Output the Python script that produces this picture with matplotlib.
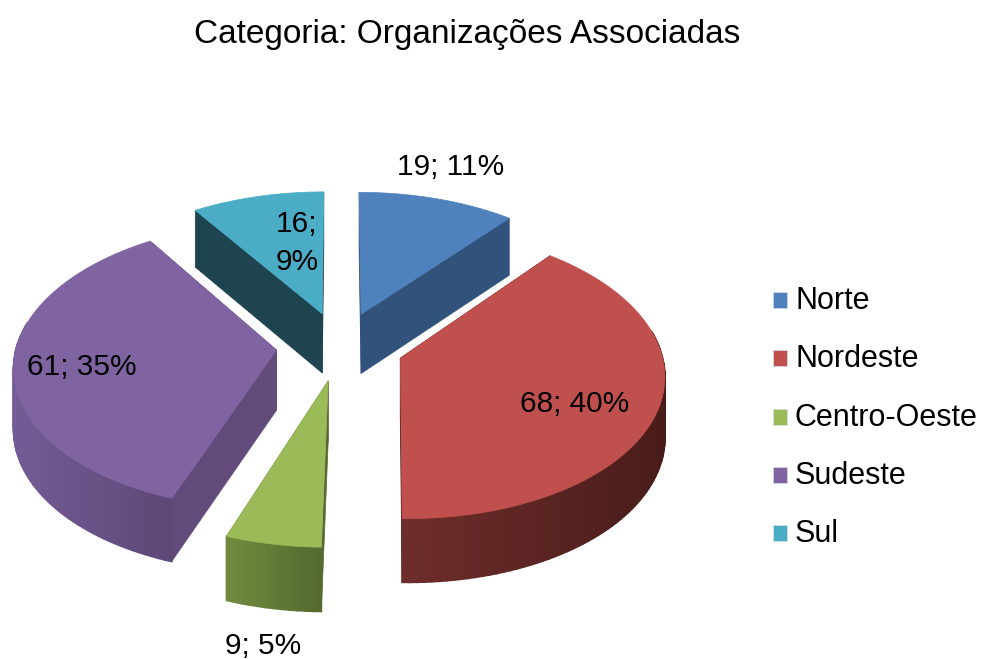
import numpy as np
import matplotlib
matplotlib.use("Agg")
import matplotlib.pyplot as plt
from matplotlib.patches import Polygon, Rectangle
from matplotlib.colors import to_rgb

# Dados
regioes = ["Norte", "Nordeste", "Centro-Oeste", "Sudeste", "Sul"]
valores = [19, 68, 9, 61, 16]
rotulos = ["19; 11%", "68; 40%", "9; 5%", "61; 35%", "16;\n9%"]
cores_topo = ["#4f81bd", "#c0504d", "#9bbb59", "#8064a2", "#4bacc6"]
cores_corte = ["#30527b", "#4f1f1d", "#566a30", "#624b7b", "#1e4450"]
cores_lado_claro = ["#3b6291", "#6e2d2a", "#6f8a3e", "#735b95", "#2a6070"]
cores_lado_escuro = ["#2d4d74", "#481c1a", "#53672e", "#5d4775", "#1e4450"]
pos_rotulos = [(451, 167), (575, 404), (263, 646), (82, 367), (297, 243)]

# Geometria do "3D" (pixels da imagem)
cx, cy = 340, 346
rx, ry = 260, 141
k = 0.105
explode = 0.245
altura = 60


def proj(u, v, dz=0):
    s = 1 / (1 + k * v)
    return cx + rx * u * s, cy - ry * v * s + dz * np.sqrt(s)


fig = plt.figure(figsize=(9.81, 6.59), dpi=100)
ax = fig.add_axes([0, 0, 1, 1])
ax.set_xlim(0, 981)
ax.set_ylim(659, 0)
ax.axis("off")
plt.rcParams["font.family"] = ["Liberation Sans", "DejaVu Sans"]

total = sum(valores)
limites = np.cumsum([0] + valores) / total * 2 * np.pi

# Ordem: de tras para frente
ordem = sorted(range(len(valores)),
               key=lambda i: -np.cos((limites[i] + limites[i + 1]) / 2))

for i in ordem:
    a0, a1 = limites[i], limites[i + 1]
    meio = (a0 + a1) / 2
    ou, ov = explode * np.sin(meio), explode * np.cos(meio)
    ang = np.linspace(a0, a1, max(int((a1 - a0) * 40), 8))
    us = ou + np.sin(ang)
    vs = ov + np.cos(ang)

    topo = [proj(ou, ov)] + [proj(u, v) for u, v in zip(us, vs)]
    apex_b = proj(ou, ov, altura)

    # faces de corte
    for u, v in [(us[0], vs[0]), (us[-1], vs[-1])]:
        face = [proj(ou, ov), proj(u, v), proj(u, v, altura), apex_b]
        ax.add_patch(Polygon(face, closed=True, fc=cores_corte[i], ec=cores_corte[i], lw=0.5))

    # parede externa com gradiente
    claro = np.array(to_rgb(cores_lado_claro[i]))
    escuro = np.array(to_rgb(cores_lado_escuro[i]))
    xs = [proj(u, v)[0] for u, v in zip(us, vs)]
    for j in range(len(us) - 1):
        t = (min(xs[j], xs[j + 1]) - min(xs)) / max(max(xs) - min(xs), 1)
        cor = claro * (1 - t) + escuro * t
        quad = [proj(us[j], vs[j]), proj(us[j + 1], vs[j + 1]),
                proj(us[j + 1], vs[j + 1], altura), proj(us[j], vs[j], altura)]
        if np.cos((ang[j] + ang[j + 1]) / 2) < 0.2:
            ax.add_patch(Polygon(quad, closed=True, fc=cor, ec=cor, lw=1.2))

    ax.add_patch(Polygon(topo, closed=True, fc=cores_topo[i], ec=cores_topo[i], lw=0.5))

# Rotulos dos dados
for txt, (x, y) in zip(rotulos, pos_rotulos):
    ax.text(x, y, txt, ha="center", va="center", fontsize=21.5, color="black", linespacing=1.5)

ax.text(467, 35, "Categoria: Organizações Associadas", ha="center", va="center",
        fontsize=24, color="black")

# Legenda
leg_y = [300, 358, 417, 475, 533]
for nome, cor, y in zip(regioes, cores_topo, leg_y):
    ax.add_patch(Rectangle((773, y - 8), 14, 16, fc=cor, ec="#d5e0ee", lw=0.5))
    ax.text(795, y + 1, nome, ha="left", va="center", fontsize=22, color="black")

fig.savefig("out.png", dpi=100)
